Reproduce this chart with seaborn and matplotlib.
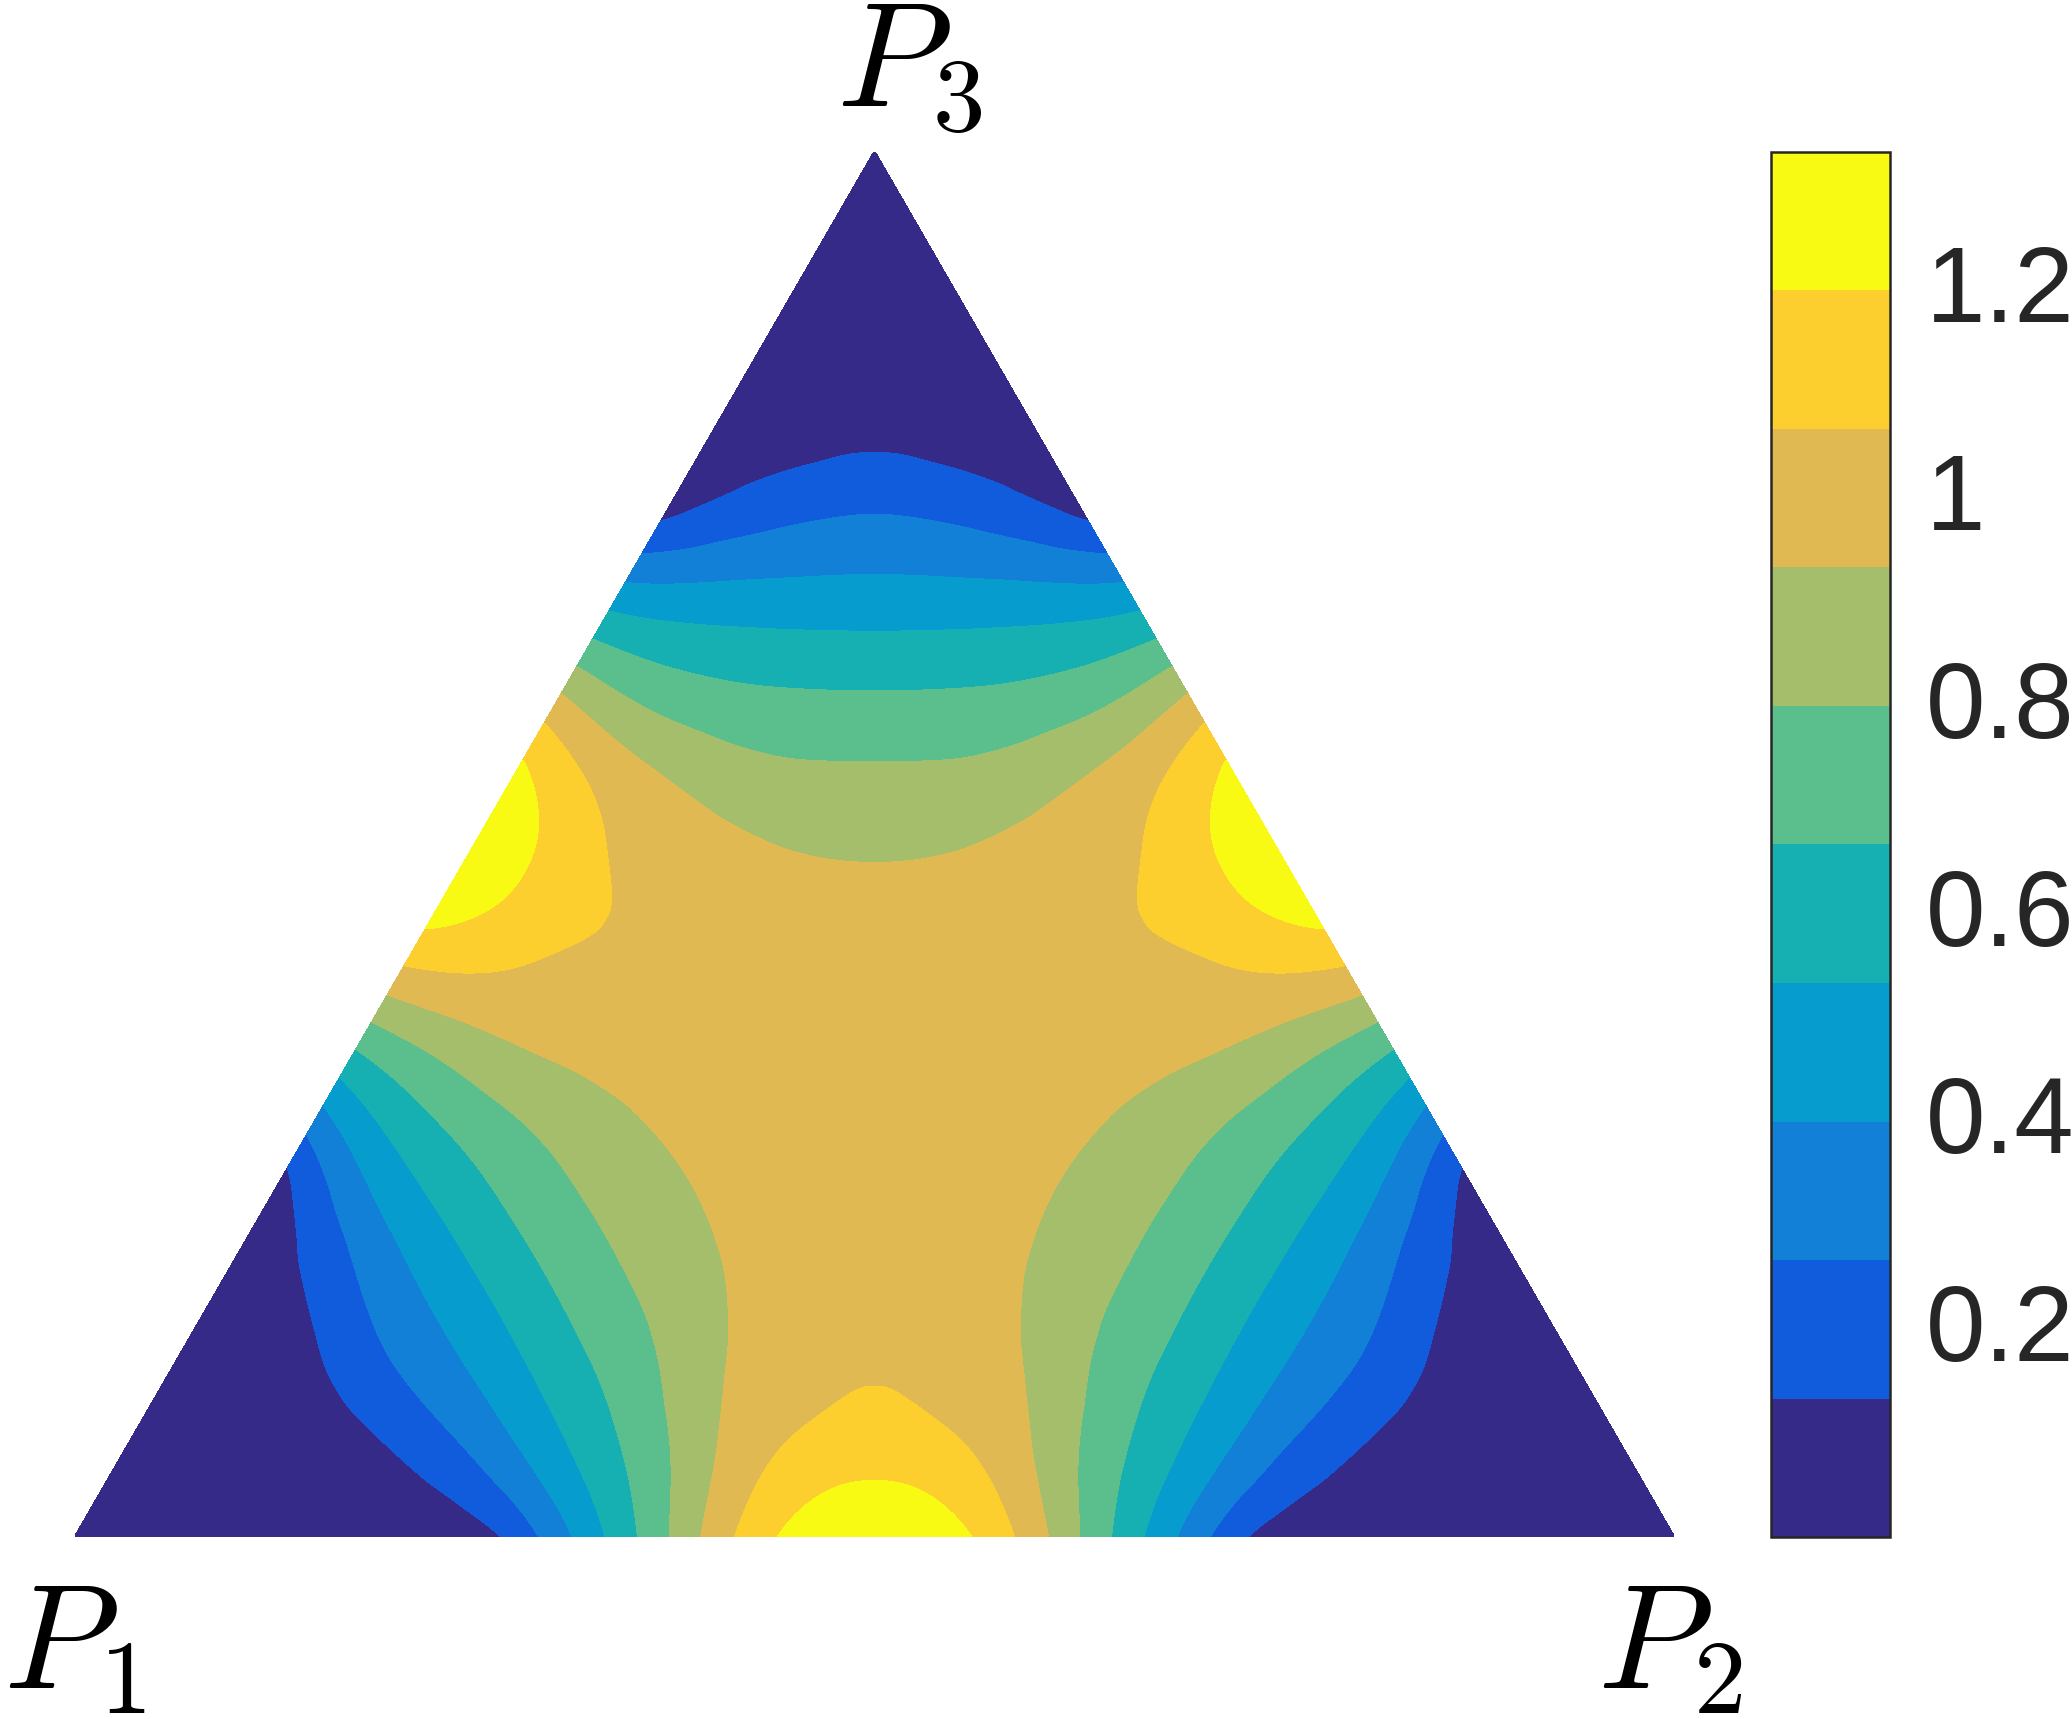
import numpy as np
import matplotlib
matplotlib.use("Agg")
import matplotlib.pyplot as plt
import matplotlib.tri as mtri
from matplotlib.colors import ListedColormap
from matplotlib.transforms import ScaledTranslation
import seaborn as sns

# barycentric lattice, N steps per edge; values for the
# sorted index triple (a >= b >= c), one list per c, b running from c upward
N = 20
row_c0 = [0.0, 0.0, 0.0, 0.005, 0.025, 0.07, 0.327, 0.652, 0.988, 1.24, 1.333]
row_c1 = [0.01, 0.015, 0.06, 0.17, 0.348, 0.576, 0.809, 1.04, 1.158]
row_c2 = [0.09, 0.221, 0.372, 0.554, 0.728, 0.916, 1.03, 1.075]
row_c3 = [0.382, 0.546, 0.701, 0.842, 0.967, 1.035]
row_c4 = [0.696, 0.821, 0.924, 0.996, 1.025]
row_c5 = [0.91, 0.986, 1.011]
row_c6 = [1.011, 1.02]
rows = [row_c0, row_c1, row_c2, row_c3, row_c4, row_c5, row_c6]

level_edges = np.linspace(0, 4 / 3, 11)
band_colors = ["#352A87", "#105CDC", "#1280D6", "#079CCE", "#17B0B2",
               "#5ABE8D", "#A5BE6C", "#E1B953", "#FCCE2E", "#F9FA14"]
cbar_ticks = [0.2, 0.4, 0.6, 0.8, 1.0, 1.2]
cbar_ticklabels = ["0.2", "0.4", "0.6", "0.8", "1", "1.2"]
corner_labels = ["$P_1$", "$P_2$", "$P_3$"]


def node_value(i, j, k):
    a, b, c = sorted((i, j, k), reverse=True)
    return rows[c][b - c]


xs, ys, zs, index = [], [], [], {}
for j in range(N + 1):
    for k in range(N + 1 - j):
        i = N - j - k
        index[(j, k)] = len(xs)
        xs.append((j + k / 2) / N)
        ys.append(k * np.sqrt(3) / 2 / N)
        zs.append(node_value(i, j, k))

triangles = []
for j in range(N + 1):
    for k in range(N + 1 - j):
        if j + k <= N - 1:
            triangles.append([index[(j, k)], index[(j + 1, k)], index[(j, k + 1)]])
        if j + k <= N - 2:
            triangles.append([index[(j + 1, k)], index[(j + 1, k + 1)], index[(j, k + 1)]])

zs = np.array(zs)
tri = mtri.Triangulation(xs, ys, triangles)
interp = mtri.CubicTriInterpolator(tri, zs, kind="min_E")
tri_f, z_f = mtri.UniformTriRefiner(tri).refine_field(zs, triinterpolator=interp, subdiv=5)
z_f = np.clip(z_f, 0, 4 / 3)

sns.set_theme(style="white")
plt.rcParams["font.family"] = ["Liberation Sans", "DejaVu Sans"]
plt.rcParams["mathtext.fontset"] = "cm"

cmap = ListedColormap(sns.color_palette(band_colors))

W, H = 2072, 1719
fig = plt.figure(figsize=(W / 100, H / 100), dpi=100)
ax = fig.add_axes([75 / W, 182 / H, 1599 / W, 1385 / H])
cs = ax.tricontourf(tri_f, z_f, levels=level_edges, cmap=cmap)
cs.set_edgecolor("face")
ax.set_xlim(0, 1)
ax.set_ylim(0, np.sqrt(3) / 2)
ax.axis("off")

cax = fig.add_axes([1771 / W, 182 / H, 119 / W, 1385 / H])
cb = fig.colorbar(cs, cax=cax, ticks=cbar_ticks)
cb.ax.set_yticklabels(cbar_ticklabels)
cb.outline.set_linewidth(1.8)
cb.outline.set_edgecolor("#262626")
cax.tick_params(axis="y", direction="in", length=10, width=1.3, colors="#262626",
                labelsize=77, pad=26, right=True, left=False)
shift = ScaledTranslation(0, 0.07, fig.dpi_scale_trans)
for lab in cax.get_yticklabels():
    lab.set_transform(lab.get_transform() + shift)

fig.text(909 / W, 1 - 106 / H, corner_labels[2], fontsize=108, color="black",
         ha="center", va="baseline")
fig.text(74 / W, 1 - 1688 / H, corner_labels[0], fontsize=108, color="black",
         ha="center", va="baseline")
fig.text(1670 / W, 1 - 1688 / H, corner_labels[1], fontsize=108, color="black",
         ha="center", va="baseline")

fig.savefig("out.png", dpi=100, facecolor="white")
